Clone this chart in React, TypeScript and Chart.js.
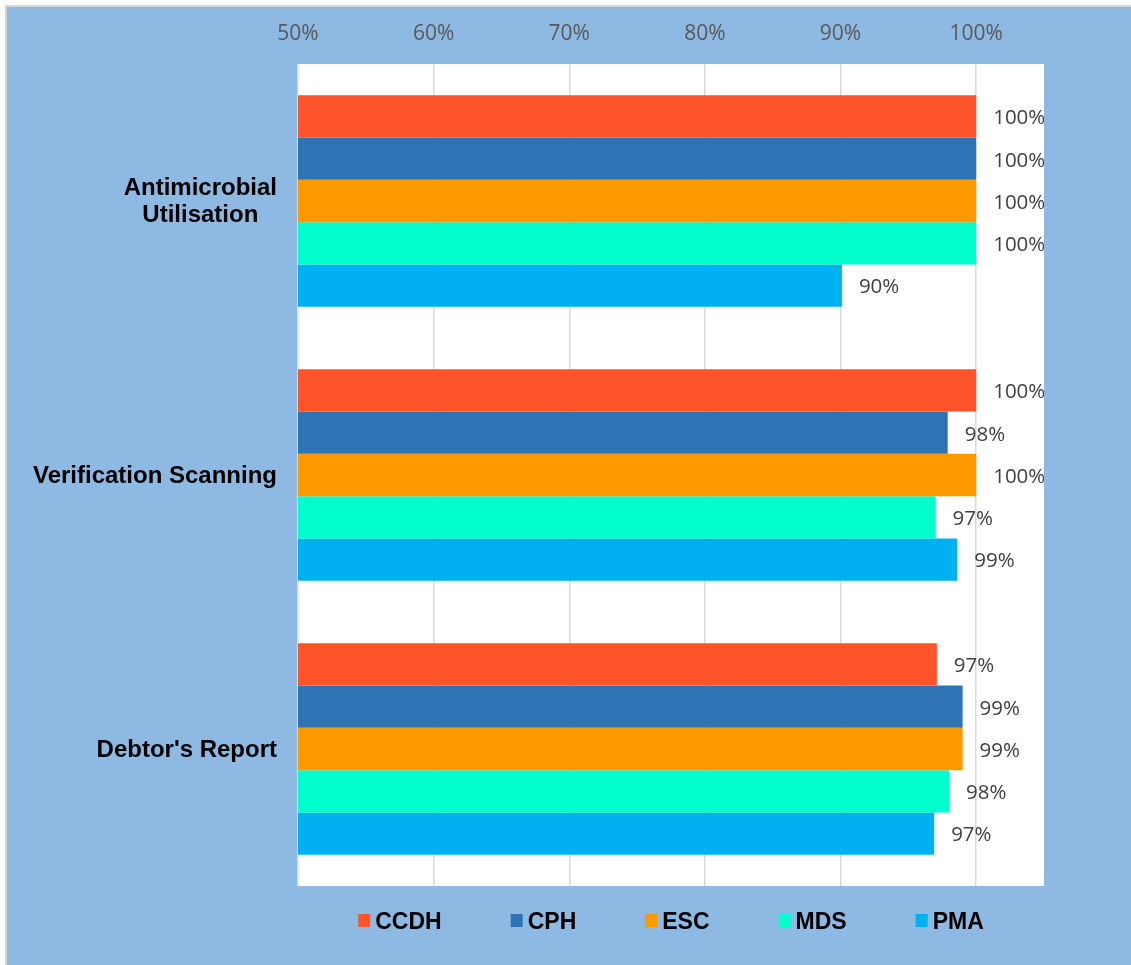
import React, { useEffect, useRef } from "react";
import { Chart, registerables } from "chart.js";

Chart.register(...registerables);

const categories: string[][] = [
  ["Antimicrobial", "Utilisation"],
  ["Verification Scanning"],
  ["Debtor's Report"],
];
const seriesNames = ["CCDH", "CPH", "ESC", "MDS", "PMA"];
const seriesColors = ["#FF5329", "#2E74B5", "#FF9900", "#00FFCC", "#00B0F0"];
const ccdh = [100, 100, 97.1];
const cph = [100, 97.9, 99.0];
const esc = [100, 100, 99.0];
const mds = [100, 97.0, 98.0];
const pma = [90.1, 98.6, 96.9];
const seriesValues = [ccdh, cph, esc, mds, pma];
const axisMin = 50;
const axisMax = 105;
const axisStep = 10;

const plotBgPlugin = {
  id: "plotBg",
  beforeDraw(chart: any) {
    const { ctx, chartArea } = chart;
    ctx.save();
    ctx.fillStyle = "#FFFFFF";
    ctx.fillRect(chartArea.left, chartArea.top, chartArea.right - chartArea.left, chartArea.bottom - chartArea.top);
    ctx.restore();
  },
};

const yLabelPlugin = {
  id: "yLabels",
  afterDraw(chart: any) {
    const { ctx, chartArea } = chart;
    const yScale = chart.scales.y;
    ctx.save();
    ctx.font = "bold 24px 'Liberation Sans', Arial, sans-serif";
    ctx.fillStyle = "#000000";
    ctx.textAlign = "center";
    ctx.textBaseline = "middle";
    const lh = 27;
    const right = chartArea.left - 21;
    categories.forEach((lines, i) => {
      const cy = yScale.getPixelForValue(i) + 1;
      const maxW = Math.max(...lines.map((l) => ctx.measureText(l).width));
      const cx = right - maxW / 2;
      const startY = cy - ((lines.length - 1) * lh) / 2;
      lines.forEach((l, j) => ctx.fillText(l, cx, startY + j * lh));
    });
    ctx.restore();
  },
};

const valueLabelPlugin = {
  id: "valueLabels",
  afterDatasetsDraw(chart: any) {
    const { ctx, chartArea } = chart;
    ctx.save();
    ctx.beginPath();
    ctx.rect(chartArea.left, chartArea.top, chartArea.right - chartArea.left, chartArea.bottom - chartArea.top);
    ctx.clip();
    ctx.font = "20.5px 'Open Sans', sans-serif";
    ctx.fillStyle = "#404040";
    ctx.textAlign = "left";
    ctx.textBaseline = "middle";
    chart.data.datasets.forEach((ds: any, di: number) => {
      const meta = chart.getDatasetMeta(di);
      meta.data.forEach((el: any, i: number) => {
        const v = ds.data[i];
        ctx.fillText(Math.round(v) + "%", el.x + 17, el.y + 2);
      });
    });
    ctx.restore();
  },
};

const legendPlugin = {
  id: "customLegend",
  afterDraw(chart: any) {
    const { ctx, chartArea } = chart;
    ctx.save();
    ctx.font = "bold 23px 'Liberation Sans', Arial, sans-serif";
    const box = 12;
    const textGap = 5;
    const itemGap = 69;
    const widths = chart.data.datasets.map((ds: any) => box + textGap + ctx.measureText(ds.label).width);
    const total = widths.reduce((a: number, b: number) => a + b, 0) + itemGap * (widths.length - 1);
    let x = (chartArea.left + chartArea.right) / 2 - total / 2;
    const baseline = 922;
    chart.data.datasets.forEach((ds: any, i: number) => {
      ctx.fillStyle = ds.backgroundColor;
      ctx.fillRect(x, baseline - 15, box, 13);
      ctx.fillStyle = "#000000";
      ctx.textBaseline = "alphabetic";
      ctx.textAlign = "left";
      ctx.fillText(ds.label, x + box + textGap, baseline);
      x += widths[i] + itemGap;
    });
    ctx.restore();
  },
};

export default function App() {
  const canvasRef = useRef<HTMLCanvasElement | null>(null);

  useEffect(() => {
    if (!canvasRef.current) return;
    const chart = new Chart(canvasRef.current, {
      type: "bar",
      data: {
        labels: categories as any,
        datasets: seriesNames.map((name, i) => ({
          label: name,
          data: seriesValues[i],
          backgroundColor: seriesColors[i],
          borderWidth: 0,
          categoryPercentage: 0.772,
          barPercentage: 1.0,
        })),
      },
      options: {
        indexAxis: "y",
        responsive: false,
        animation: false,
        maintainAspectRatio: false,
        layout: { padding: { left: 0, right: 87, top: 0, bottom: 79 } },
        plugins: {
          legend: { display: false },
          tooltip: { enabled: false },
        },
        scales: {
          x: {
            position: "top",
            min: axisMin,
            max: axisMax,
            border: { display: false },
            grid: { color: "#D9D9D9", lineWidth: 1.5, drawTicks: false },
            ticks: {
              stepSize: axisStep,
              includeBounds: false,
              padding: 17,
              color: "#595959",
              font: { family: "'Open Sans', sans-serif", size: 21 },
              callback: (v: any) => v + "%",
            },
            afterFit: (s: any) => {
              s.height = 57;
            },
          },
          y: {
            border: { display: false },
            grid: { display: false, drawTicks: false },
            ticks: { display: false },
            afterFit: (s: any) => {
              s.width = 291;
            },
          },
        },
      },
      plugins: [plotBgPlugin, yLabelPlugin, valueLabelPlugin, legendPlugin],
    } as any);
    return () => chart.destroy();
  }, []);

  return (
    <div style={{ position: "absolute", left: 0, top: 0, width: 1131, height: 965, background: "#FFFFFF", overflow: "hidden" }}>
      <div
        style={{
          position: "absolute",
          left: 5,
          top: 5,
          width: 1126,
          height: 960,
          boxSizing: "border-box",
          borderLeft: "2px solid #D4D4D4",
          borderTop: "2px solid #D4D4D4",
          background: "#8DB9E2",
        }}
      >
        <canvas ref={canvasRef} width={1124} height={958} style={{ display: "block", width: 1124, height: 958 }} />
      </div>
    </div>
  );
}
